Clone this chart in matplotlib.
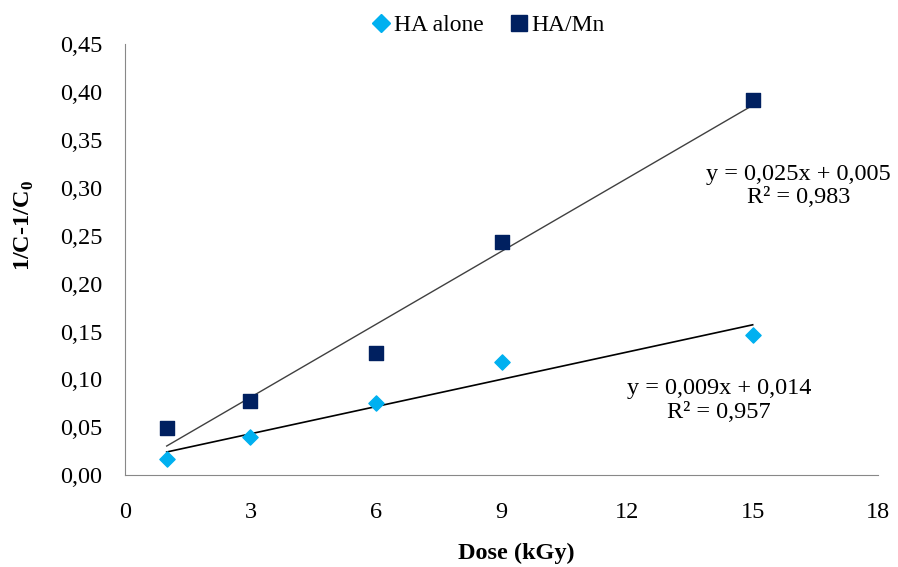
import numpy as np
import matplotlib
matplotlib.use('Agg')
import matplotlib.pyplot as plt
from matplotlib.ticker import FuncFormatter
from matplotlib.lines import Line2D

plt.rcParams['font.family'] = ['Liberation Serif', 'DejaVu Serif']
plt.rcParams['mathtext.fontset'] = 'custom'
plt.rcParams['mathtext.rm'] = 'Liberation Serif'
plt.rcParams['mathtext.bf'] = 'Liberation Serif:bold'

# Dose values (kGy)
dose = [1, 3, 6, 9, 15]

# 1/C - 1/C0 values
ha_alone = [0.017, 0.040, 0.075, 0.118, 0.146]
ha_mn = [0.049, 0.077, 0.128, 0.243, 0.392]

eq_ha_alone = 'y = 0,009x + 0,014\nR² = 0,957'
eq_ha_mn = 'y = 0,025x + 0,005\nR² = 0,983'

c_alone = '#00B0F0'
c_mn = '#002060'

fig = plt.figure(figsize=(8.98, 5.67), dpi=100)
ax = fig.add_axes([0.139, 0.162, 0.839, 0.760])

x = np.array(dose)

# linear trend lines
p_mn = np.polyfit(x, ha_mn, 1)
p_alone = np.polyfit(x, ha_alone, 1)
xs = np.array([dose[0], dose[-1]])
ax.plot(xs, np.polyval(p_mn, xs), color='#404040', lw=1.0, zorder=2)
ax.plot(xs, np.polyval(p_alone, xs), color='black', lw=1.2, zorder=2)

ax.scatter(x, ha_alone, marker='D', s=60, color=c_alone, zorder=3)
ax.scatter(x, ha_mn, marker='s', s=100, color=c_mn, zorder=3)

ax.text(16.1, 0.302, eq_ha_mn, ha='center', va='center', fontsize=17.5, linespacing=1.16)
ax.text(14.2, 0.078, eq_ha_alone, ha='center', va='center', fontsize=17.5, linespacing=1.16)

ax.set_xlim(0, 18)
ax.set_ylim(0, 0.45)
ax.set_xticks(range(0, 19, 3))
ax.set_yticks(np.arange(0, 0.451, 0.05))
ax.yaxis.set_major_formatter(FuncFormatter(lambda v, pos: f'{v:.2f}'.replace('.', ',')))
ax.tick_params(axis='x', labelsize=17.5, length=0, pad=19)
ax.tick_params(axis='y', labelsize=17.5, length=0, pad=16)

for s in ['top', 'right']:
    ax.spines[s].set_visible(False)
for s in ['left', 'bottom']:
    ax.spines[s].set_color('#888888')

fig.text(516 / 898, 1 - 553 / 567, 'Dose (kGy)', fontsize=17.5, fontweight='bold',
         ha='center', va='center')
fig.text(24 / 898, 1 - 226 / 567, '1/C-1/C$_\\mathbf{0}$', fontsize=17.5, fontweight='bold',
         ha='center', va='center', rotation=90)

handles = [
    Line2D([], [], ls='none', marker='D', ms=9, color=c_alone, label='HA alone'),
    Line2D([], [], ls='none', marker='s', ms=11, color=c_mn, label='HA/Mn'),
]
fig.legend(handles=handles, loc='center', bbox_to_anchor=(487 / 898, 1 - 25 / 567), ncol=2,
           frameon=False, fontsize=17, handletextpad=0.05, columnspacing=1.0,
           handlelength=1.0)

fig.savefig('out.png', dpi=100)
